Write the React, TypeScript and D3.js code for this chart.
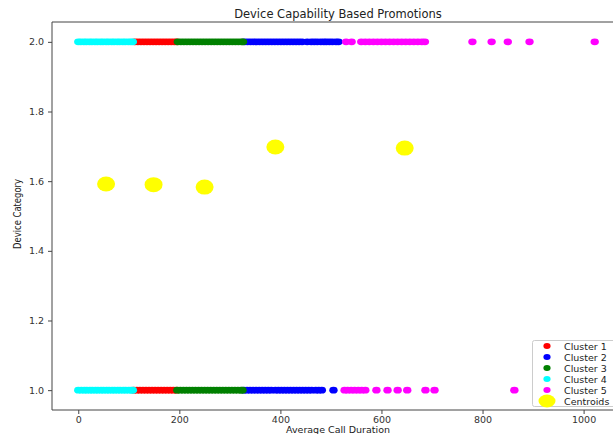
import React, { useEffect, useRef } from 'react'
import * as d3 from 'd3'

// x values (Average Call Duration) per cluster, for device category 2.0 and 1.0
const cluster1Top = [112, 118, 124, 130, 136, 142, 148, 154, 160, 166, 172, 178, 184, 190, 195]
const cluster1Bottom = [110, 116, 122, 128, 134, 140, 146, 152, 158, 164, 170, 176, 182, 188, 194]
const cluster2Top = [329, 335, 341, 347, 353, 359, 365, 371, 377, 383, 389, 395, 401, 407, 413, 419, 425, 431, 437, 443, 453, 461, 467, 473, 480, 486, 491, 497, 503, 510, 515]
const cluster2Bottom = [328, 334, 340, 346, 352, 358, 364, 370, 376, 382, 390, 396, 402, 408, 414, 420, 426, 432, 438, 444, 450, 456, 462, 470, 476, 482, 505]
const cluster3Top = [197, 203, 209, 215, 221, 227, 233, 239, 245, 251, 257, 263, 269, 275, 281, 287, 293, 299, 305, 311, 317, 323, 326]
const cluster3Bottom = [196, 202, 208, 214, 220, 226, 232, 238, 244, 250, 256, 262, 268, 274, 280, 286, 292, 298, 304, 310, 316, 322, 325]
const cluster4Top = [0, 5, 11, 16, 22, 27, 33, 38, 44, 49, 55, 60, 66, 71, 77, 82, 88, 93, 99, 104, 108]
const cluster4Bottom = [0, 6, 12, 17, 23, 28, 34, 39, 45, 50, 56, 61, 67, 72, 78, 83, 89, 94, 100, 105, 108]
const cluster5Top = [530, 541, 560, 568, 576, 584, 592, 600, 608, 616, 624, 632, 640, 648, 656, 664, 672, 680, 686, 780, 818, 850, 893, 1022]
const cluster5Bottom = [527, 533, 540, 547, 554, 561, 568, 590, 612, 632, 651, 687, 705, 863]

const centroidX = [55, 149, 250, 390, 646]
const centroidY = [1.592, 1.59, 1.583, 1.698, 1.695]

const clusterNames = ['Cluster 1', 'Cluster 2', 'Cluster 3', 'Cluster 4', 'Cluster 5']
const clusterColors = ['red', 'blue', 'green', 'cyan', 'magenta']
const clusterData = [
  [cluster1Top, cluster1Bottom],
  [cluster2Top, cluster2Bottom],
  [cluster3Top, cluster3Bottom],
  [cluster4Top, cluster4Bottom],
  [cluster5Top, cluster5Bottom],
]

const xTicks = [0, 200, 400, 600, 800, 1000]
const yTicks = [1.0, 1.2, 1.4, 1.6, 1.8, 2.0]

export default function App() {
  const ref = useRef<SVGSVGElement>(null)

  useEffect(() => {
    const svg = d3.select(ref.current)
    svg.selectAll('*').remove()

    const width = 613
    const height = 434
    const left = 52, right = 622, top = 22, bottom = 410

    const x = d3.scaleLinear().domain([-52, 1076]).range([left, right])
    const y = d3.scaleLinear().domain([0.943, 2.057]).range([bottom, top])

    svg.attr('width', width).attr('height', height)

    const font = 'DejaVu Sans, sans-serif'

    svg.append('text')
      .attr('x', 338).attr('y', 18)
      .attr('text-anchor', 'middle')
      .style('font-family', font).style('font-size', '11.5px').style('fill', '#222')
      .text('Device Capability Based Promotions')

    const pts = svg.append('g')
    clusterData.forEach((rows, i) => {
      const flat = [
        ...rows[0].map(v => ({ x: v, y: 2.0 })),
        ...rows[1].map(v => ({ x: v, y: 1.0 })),
      ]
      pts.append('g').selectAll('ellipse')
        .data(flat)
        .enter()
        .append('ellipse')
        .attr('cx', d => x(d.x))
        .attr('cy', d => y(d.y))
        .attr('rx', 4.2)
        .attr('ry', 3.4)
        .style('fill', clusterColors[i])
    })

    pts.append('g').selectAll('ellipse')
      .data(centroidX.map((v, i) => ({ x: v, y: centroidY[i] })))
      .enter()
      .append('ellipse')
      .attr('cx', d => x(d.x))
      .attr('cy', d => y(d.y))
      .attr('rx', 9)
      .attr('ry', 7.5)
      .style('fill', 'yellow')

    // axes
    const xAxis = svg.append('g')
      .attr('transform', `translate(0, ${bottom})`)
      .call(d3.axisBottom(x).tickValues(xTicks).tickFormat(d3.format('d')).tickSize(4).tickPadding(2).tickSizeOuter(0))
    const yAxis = svg.append('g')
      .attr('transform', `translate(${left}, 0)`)
      .call(d3.axisLeft(y).tickValues(yTicks).tickFormat(d3.format('.1f')).tickSize(4).tickPadding(4).tickSizeOuter(0))

    ;[xAxis, yAxis].forEach(a => {
      a.select('.domain').remove()
      a.selectAll('line').style('stroke', '#444')
      a.selectAll('text').style('font-family', font).style('font-size', '9.5px').style('fill', '#333')
    })

    // spines
    svg.append('path')
      .attr('d', `M${right},${top}H${left}V${bottom}H${right}`)
      .style('fill', 'none').style('stroke', '#444').style('stroke-width', 1)

    svg.append('text')
      .attr('x', 338).attr('y', 432.5)
      .attr('text-anchor', 'middle')
      .style('font-family', font).style('font-size', '9.5px').style('fill', '#222')
      .text('Average Call Duration')

    svg.append('text')
      .attr('transform', 'translate(21, 214) rotate(-90)')
      .attr('text-anchor', 'middle')
      .attr('textLength', 70)
      .attr('lengthAdjust', 'spacingAndGlyphs')
      .style('font-family', font).style('font-size', '10px').style('fill', '#222')
      .text('Device Category')

    // legend
    const legend = svg.append('g')
    legend.append('rect')
      .attr('x', 532.5).attr('y', 340.5)
      .attr('width', 90).attr('height', 66)
      .attr('rx', 2)
      .style('fill', 'white').style('fill-opacity', 0.8)
      .style('stroke', '#ccc')
    const labels = [...clusterNames, 'Centroids']
    labels.forEach((name, i) => {
      const cy = 346 + i * 11
      legend.append('ellipse')
        .attr('cx', 547).attr('cy', cy)
        .attr('rx', i < 5 ? 3.6 : 8.5)
        .attr('ry', i < 5 ? 3 : 6.5)
        .style('fill', i < 5 ? clusterColors[i] : 'yellow')
      legend.append('text')
        .attr('x', 564).attr('y', cy + 3.5)
        .style('font-family', font).style('font-size', '9.5px').style('fill', '#222')
        .text(name)
    })
  }, [])

  return (
    <div style={{ position: 'absolute', left: 0, top: 0 }}>
      <svg ref={ref} style={{ display: 'block', background: 'white' }}></svg>
    </div>
  )
}
